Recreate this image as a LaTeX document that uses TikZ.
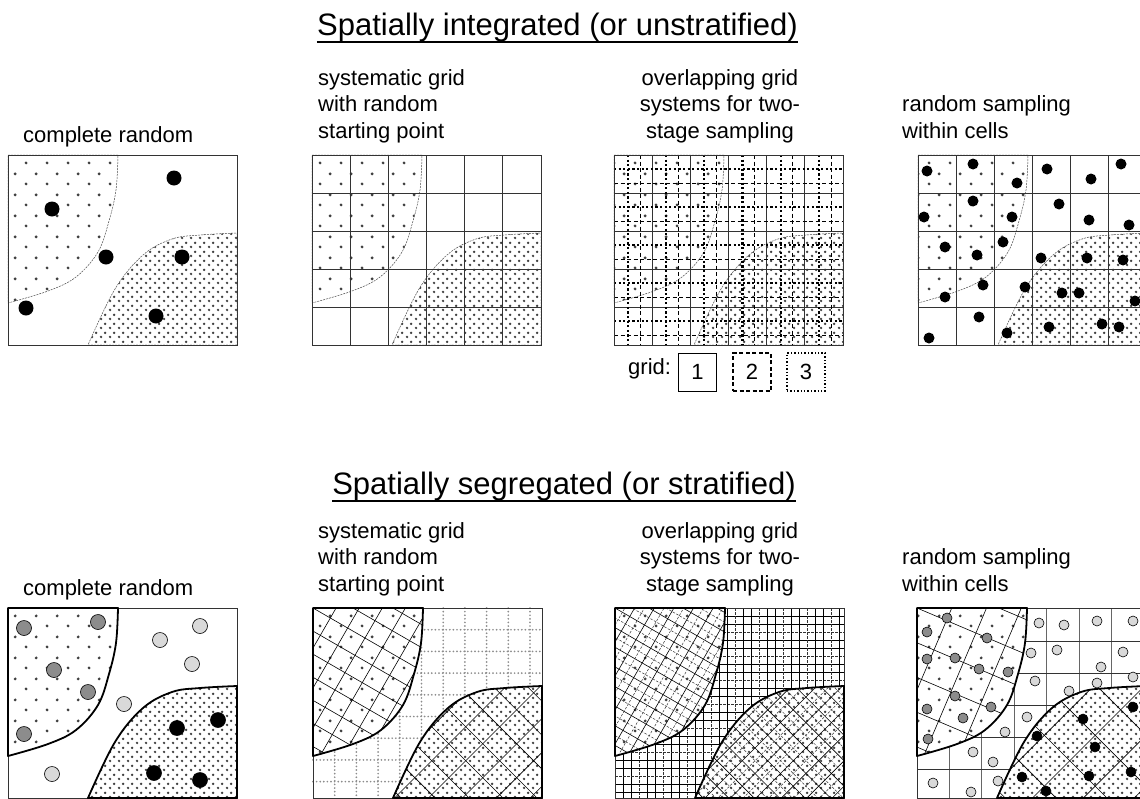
\documentclass[tikz,border=0pt]{standalone}
\usepackage{fontspec}
\setmainfont{Liberation Sans}
\usetikzlibrary{patterns.meta}

\colorlet{dotgray}{black!75}
\colorlet{midgray}{black!45}
\colorlet{lightgray}{black!15}

\tikzdeclarepattern{name=sparsedots, bottom left={(0pt,0pt)}, top right={(21pt,21pt)},
  tile size={(21pt,21pt)},
  code={\fill (5.25pt,5.25pt) circle (1.6pt); \fill (15.75pt,15.75pt) circle (1.6pt);}}
\tikzdeclarepattern{name=densedots, bottom left={(0pt,0pt)}, top right={(9pt,9pt)},
  tile size={(9pt,9pt)},
  code={\fill (2.25pt,2.25pt) circle (1.45pt); \fill (6.75pt,6.75pt) circle (1.45pt);}}

\begin{document}
\begin{tikzpicture}[x=1pt, y=-1pt,
    heading/.style={font=\fontsize{31}{37}\selectfont, inner sep=0pt, anchor=base},
    caption/.style={font=\fontsize{22}{26.5}\selectfont, inner sep=0pt, align=left, anchor=base west},
    frame/.style={draw=black!80, line width=0.8pt},
    edge/.style={draw=black!70, dash pattern=on 2pt off 1pt, line width=0.5pt},
    stratum/.style={draw=black, line width=1.8pt, line join=round},
    cell/.style={draw=black!80, line width=0.8pt},
    tilt/.style={draw=black, line width=0.6pt},
    tiltdash/.style={draw=black!80, line width=0.5pt, dash pattern=on 2.5pt off 1.5pt},
    gridtwo/.style={draw=black, line width=0.7pt, dash pattern=on 4pt off 2.5pt},
    gridthree/.style={draw=black, line width=2.2pt, dash pattern=on 2.2pt off 2.4pt},
    griddots/.style={draw=black!45, line width=1.9pt, line cap=round, dash pattern=on 0pt off 3.6pt},
    legendbox/.style={draw=black, line width=0.8pt, minimum width=38pt, minimum height=38pt,
      inner sep=0pt, font=\fontsize{22}{26.5}\selectfont},
    sample/.style={fill=black},
    pick/.style={draw=black, line width=0.6pt}]
  % The two strata of a plot, in its own frame (229 x 190, origin at the top left corner).
  \newcommand{\upperleft}{(0,0) -- plot[smooth, tension=0.6] coordinates {(110,0) (108,35) (101,66) (90,97) (68,122) (40,136) (0,148)} -- cycle}
  \newcommand{\lowerright}{(229,190) -- plot[smooth, tension=0.6] coordinates {(80,190) (107,134) (135,100) (164,84) (192,80) (229,78)} -- cycle}
  % Strata with a thin dashed outline (upper row).
  \newcommand{\strata}{%
    \fill[pattern=sparsedots, pattern color=dotgray] \upperleft;
    \fill[pattern=densedots, pattern color=dotgray] \lowerright;
    \draw[edge] \upperleft;
    \draw[edge] \lowerright;}
  % Strata on a white ground (lower row); the outline is drawn later.
  \newcommand{\whitestrata}{%
    \fill[white] \upperleft; \fill[pattern=sparsedots, pattern color=dotgray] \upperleft;
    \fill[white] \lowerright; \fill[pattern=densedots, pattern color=dotgray] \lowerright;}
  % A turned grid: #1 = angle, #2 = spacing, #3 = offset, #4 = line style.
  \newcommand{\tiltgrid}[4]{%
    \begin{scope}[rotate=#1]
      \foreach \k in {-24,...,24} {
        \draw[#4] (\k*#2+#3,-420) -- (\k*#2+#3,420);
        \draw[#4] (-420,\k*#2+#3) -- (420,\k*#2+#3);}
    \end{scope}}
  % The 6 x 5 cells of grid 1.
  \newcommand{\cells}{%
    \foreach \i in {1,...,5} \draw[cell] (\i*38.17,0) -- (\i*38.17,190);
    \foreach \j in {1,...,4} \draw[cell] (0,\j*38) -- (229,\j*38);}

  \useasboundingbox (0,0) rectangle (1140,798);

  % ---------------- upper row ----------------
  \node[heading] (upperhead) at (557.5,35) {Spatially integrated (or unstratified)};
  \draw[line width=2.6pt] ([yshift=-7pt]upperhead.base west) -- ([yshift=-7pt]upperhead.base east);

  \node[caption] (capa) at (23,142) {complete random};
  \node[caption] (capb) at (318,138) {systematic grid\\with random\\starting point};
  \node[caption, align=center, anchor=base] (capc) at (720,138) {overlapping grid\\systems for two-\\stage sampling};
  \node[caption] (capd) at (902,138) {random sampling\\within cells};

  % complete random
  \begin{scope}[shift={(8,155)}]
    \strata
    \draw[frame] (0,0) rectangle (229,190);
    \foreach \x/\y in {166/23, 44/54, 98/102, 174/102, 18/153, 148/161}
      \fill[sample] (\x,\y) circle (7.5pt);
  \end{scope}

  % systematic grid
  \begin{scope}[shift={(312,155)}]
    \strata
    \cells
    \draw[frame] (0,0) rectangle (229,190);
  \end{scope}

  % overlapping grids
  \begin{scope}[shift={(614,155)}]
    \strata
    \cells
    \foreach \i in {0,...,5} \draw[gridtwo] (26+\i*38.17,0) -- (26+\i*38.17,190);
    \foreach \j in {0,...,4} \draw[gridtwo] (0,28+\j*38) -- (229,28+\j*38);
    \foreach \i in {0,...,5} \draw[gridthree] (14+\i*38.17,0) -- (14+\i*38.17,190);
    \foreach \j in {0,...,4} \draw[gridthree] (0,14+\j*38) -- (229,14+\j*38);
    \draw[frame] (0,0) rectangle (229,190);
  \end{scope}
  \node[caption] (gridkey) at (628,374) {grid:};
  \node[legendbox] (keyone) at (697.5,372) {1};
  \node[legendbox, line width=1.1pt, dash pattern=on 4pt off 2.5pt] (keytwo) at (752,372) {2};
  \node[legendbox, line width=1.4pt, dash pattern=on 1.4pt off 2pt] (keythree) at (806,372) {3};

  % random sampling within cells
  \begin{scope}[shift={(918,155)}]
    \strata
    \cells
    \draw[frame] (0,0) rectangle (229,190);
    \foreach \x/\y in {9/16, 55/9, 99/28, 129/14, 173/24, 203/9,
                       6/62, 55/46, 94/62, 141/49, 171/65, 211/70,
                       27/92, 59/100, 85/87, 123/103, 169/103, 205/105,
                       27/142, 65/130, 107/132, 144/138, 161/138, 217/146,
                       11/183, 61/162, 89/178, 131/172, 184/169, 201/172}
      \fill[sample] (\x,\y) circle (5.5pt);
  \end{scope}

  % ---------------- lower row ----------------
  \node[heading] (lowerhead) at (564,494) {Spatially segregated (or stratified)};
  \draw[line width=2.6pt] ([yshift=-7pt]lowerhead.base west) -- ([yshift=-7pt]lowerhead.base east);

  \node[caption] (cape) at (23,595) {complete random};
  \node[caption] (capf) at (318,591) {systematic grid\\with random\\starting point};
  \node[caption, align=center, anchor=base] (capg) at (720,591) {overlapping grid\\systems for two-\\stage sampling};
  \node[caption] (caph) at (902,591) {random sampling\\within cells};

  % complete random, by stratum
  \begin{scope}[shift={(8,608)}]
    \whitestrata
    \draw[frame] (0,0) rectangle (229,190);
    \draw[stratum] \upperleft;
    \draw[stratum] \lowerright;
    \foreach \x/\y in {16/20, 90/14, 46/62, 80/84, 16/126}
      \filldraw[pick, fill=midgray] (\x,\y) circle (7.5pt);
    \foreach \x/\y in {152/32, 192/18, 184/56, 116/96, 44/166}
      \filldraw[pick, fill=lightgray] (\x,\y) circle (7.5pt);
    \foreach \x/\y in {169/120, 210/112, 146/165, 192/172}
      \filldraw[pick, fill=black] (\x,\y) circle (7.5pt);
  \end{scope}

  % systematic grid, by stratum
  \begin{scope}[shift={(313,608)}]
    \foreach \i in {1,...,10} \draw[griddots] (\i*21.7,0) -- (\i*21.7,190);
    \foreach \j in {1,...,8} \draw[griddots] (0,\j*21.7) -- (229,\j*21.7);
    \whitestrata
    \begin{scope}
      \clip \upperleft;
      \tiltgrid{-30}{20}{0}{tilt}
    \end{scope}
    \begin{scope}
      \clip \lowerright;
      \tiltgrid{45}{24}{0}{tilt}
    \end{scope}
    \draw[frame] (0,0) rectangle (229,190);
    \draw[stratum] \upperleft;
    \draw[stratum] \lowerright;
  \end{scope}

  % overlapping grids, by stratum
  \begin{scope}[shift={(615,608)}]
    \foreach \k in {1,...,28} {
      \pgfmathtruncatemacro{\r}{mod(\k,3)}
      \ifnum\r=0
        \draw[tiltdash] (\k*8,0) -- (\k*8,190);
        \draw[tiltdash] (0,\k*8) -- (229,\k*8);
      \else
        \draw[tilt] (\k*8,0) -- (\k*8,190);
        \draw[tilt] (0,\k*8) -- (229,\k*8);
      \fi}
    \whitestrata
    \begin{scope}
      \clip \upperleft;
      \tiltgrid{-30}{17}{0}{tilt}
      \tiltgrid{-30}{17}{8.5}{tiltdash}
    \end{scope}
    \begin{scope}
      \clip \lowerright;
      \tiltgrid{45}{18}{0}{tilt}
      \tiltgrid{45}{18}{9}{tiltdash}
    \end{scope}
    \draw[frame] (0,0) rectangle (229,190);
    \draw[stratum] \upperleft;
    \draw[stratum] \lowerright;
  \end{scope}

  % random sampling within cells, by stratum
  \begin{scope}[shift={(917,608)}]
    \foreach \i in {1,...,6} \draw[cell, draw=black!60] (\i*32.5-0.5,0) -- (\i*32.5-0.5,190);
    \foreach \j in {1,...,5} \draw[cell] (0,\j*32+1) -- (229,\j*32+1);
    \whitestrata
    \begin{scope}
      \clip \upperleft;
      \tiltgrid{-23}{32}{0}{tilt}
    \end{scope}
    \begin{scope}
      \clip \lowerright;
      \tiltgrid{45}{36}{0}{tilt}
    \end{scope}
    \draw[frame] (0,0) rectangle (229,190);
    \draw[stratum] \upperleft;
    \draw[stratum] \lowerright;
    \foreach \x/\y in {30/10, 10/24, 70/30, 10/51, 38/50, 62/61, 91/64, 38/88, 10/101, 74/99, 46/110, 11/131}
      \filldraw[pick, fill=midgray] (\x,\y) circle (5pt);
    \foreach \x/\y in {122/15, 147/17, 180/13, 216/13, 114/45, 140/42, 206/44, 184/59, 118/73, 180/75,
                       216/69, 152/83, 110/109, 88/124, 56/144, 76/154, 16/175, 54/184, 81/173}
      \filldraw[pick, fill=lightgray] (\x,\y) circle (5pt);
    \foreach \x/\y in {216/99, 166/111, 120/128, 178/139, 214/164, 172/168, 105/169, 129/183}
      \filldraw[pick, fill=black] (\x,\y) circle (5pt);
  \end{scope}
\end{tikzpicture}
\end{document}
